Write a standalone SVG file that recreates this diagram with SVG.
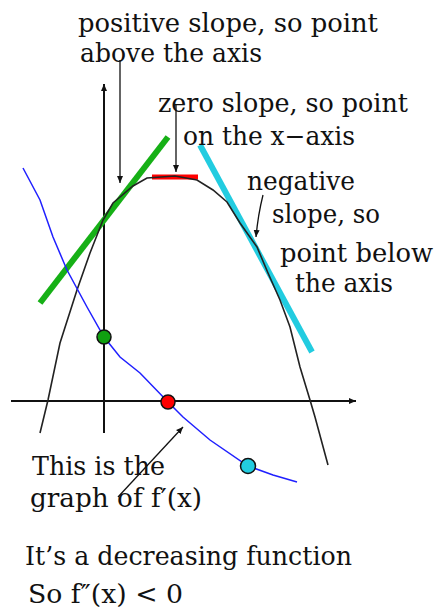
<svg xmlns="http://www.w3.org/2000/svg" width="439" height="616" viewBox="0 0 439 616">
<style>
text{font-family:"DejaVu Serif","Liberation Serif",serif;font-size:26px;fill:#111}
.ax{stroke:#111;stroke-width:2;fill:none}
.thin{stroke:#111;stroke-width:1.3;fill:none}
.curve{stroke:#222;stroke-width:1.6;fill:none}
.blue{stroke:#2020ff;stroke-width:1.5;fill:none}
.dot{stroke:#111;stroke-width:1.5}
</style>
<defs>
<marker id="ah" markerWidth="8" markerHeight="8" refX="7" refY="4" orient="auto" markerUnits="userSpaceOnUse">
<path d="M0,1 L7,4 L0,7 Z" fill="#111"/>
</marker>
</defs>
<rect width="439" height="616" fill="#fff"/>
<g id="axes">
<line class="ax" x1="104" y1="433" x2="104" y2="84" marker-end="url(#ah)"/>
<line class="ax" x1="11" y1="401" x2="356" y2="401" marker-end="url(#ah)"/>
</g>
<g id="tangents">
<line x1="168" y1="137" x2="40" y2="303" stroke="#16b016" stroke-width="6"/>
<line x1="152" y1="177" x2="198" y2="177" stroke="#ff0000" stroke-width="5"/>
<line x1="200" y1="145" x2="312" y2="352" stroke="#22cce0" stroke-width="6"/>
</g>
<g id="f-curve">
<path class="curve" d="M40,433 L48,400 L60,343 L77,290 L90,253 L103,220 L113,203 L133,186 L147,178 L175,176 L197,180 L213,190 L227,202 L240,223 L257,247 L268,273 L280,300 L290,327 L300,367 L310,400 L315,417 L328,465"/>
</g>
<g id="fprime-curve">
<path class="blue" d="M23,168 L40,200 L53,237 L67,270 L87,307 L104,337 L120,357 L140,373 L168,402 L183,417 L210,440 L248,466 L273,475 L297,482"/>
</g>
<g id="dot-green"><circle class="dot" cx="104" cy="337" r="7" fill="#10a010"/></g>
<g id="dot-red"><circle class="dot" cx="168" cy="402" r="7" fill="#ff0000"/></g>
<g id="dot-cyan"><circle class="dot" cx="248" cy="466" r="7.5" fill="#22cce0"/></g>
<g id="connectors">
<line class="thin" x1="120" y1="60" x2="120" y2="183" marker-end="url(#ah)"/>
<line class="thin" x1="176" y1="104" x2="176" y2="172" marker-end="url(#ah)"/>
<path class="thin" d="M263,195 Q258,215 256,237" marker-end="url(#ah)"/>
<line class="thin" x1="118" y1="497" x2="183" y2="427" marker-end="url(#ah)"/>
</g>
<g id="label-positive">
<text x="78" y="32" textLength="300" lengthAdjust="spacingAndGlyphs">positive slope, so point</text>
<text x="80" y="62" textLength="182" lengthAdjust="spacingAndGlyphs">above the axis</text>
</g>
<g id="label-zero">
<text x="158" y="112" textLength="250" lengthAdjust="spacingAndGlyphs">zero slope, so point</text>
<text x="183" y="145" textLength="172" lengthAdjust="spacingAndGlyphs">on the x−axis</text>
</g>
<g id="label-negative">
<text x="247" y="190" textLength="108" lengthAdjust="spacingAndGlyphs">negative</text>
<text x="272" y="223" textLength="108" lengthAdjust="spacingAndGlyphs">slope, so</text>
<text x="280" y="262" textLength="153" lengthAdjust="spacingAndGlyphs">point below</text>
<text x="295" y="292" textLength="98" lengthAdjust="spacingAndGlyphs">the axis</text>
</g>
<g id="label-graph">
<text x="32" y="475" textLength="133" lengthAdjust="spacingAndGlyphs">This is the</text>
<text x="30" y="507" textLength="172" lengthAdjust="spacingAndGlyphs">graph of f′(x)</text>
</g>
<g id="label-conclusion">
<text x="25" y="565" textLength="327" lengthAdjust="spacingAndGlyphs">It’s a decreasing function</text>
<text x="28" y="603" textLength="155" lengthAdjust="spacingAndGlyphs">So f″(x) &lt; 0</text>
</g>
</svg>
